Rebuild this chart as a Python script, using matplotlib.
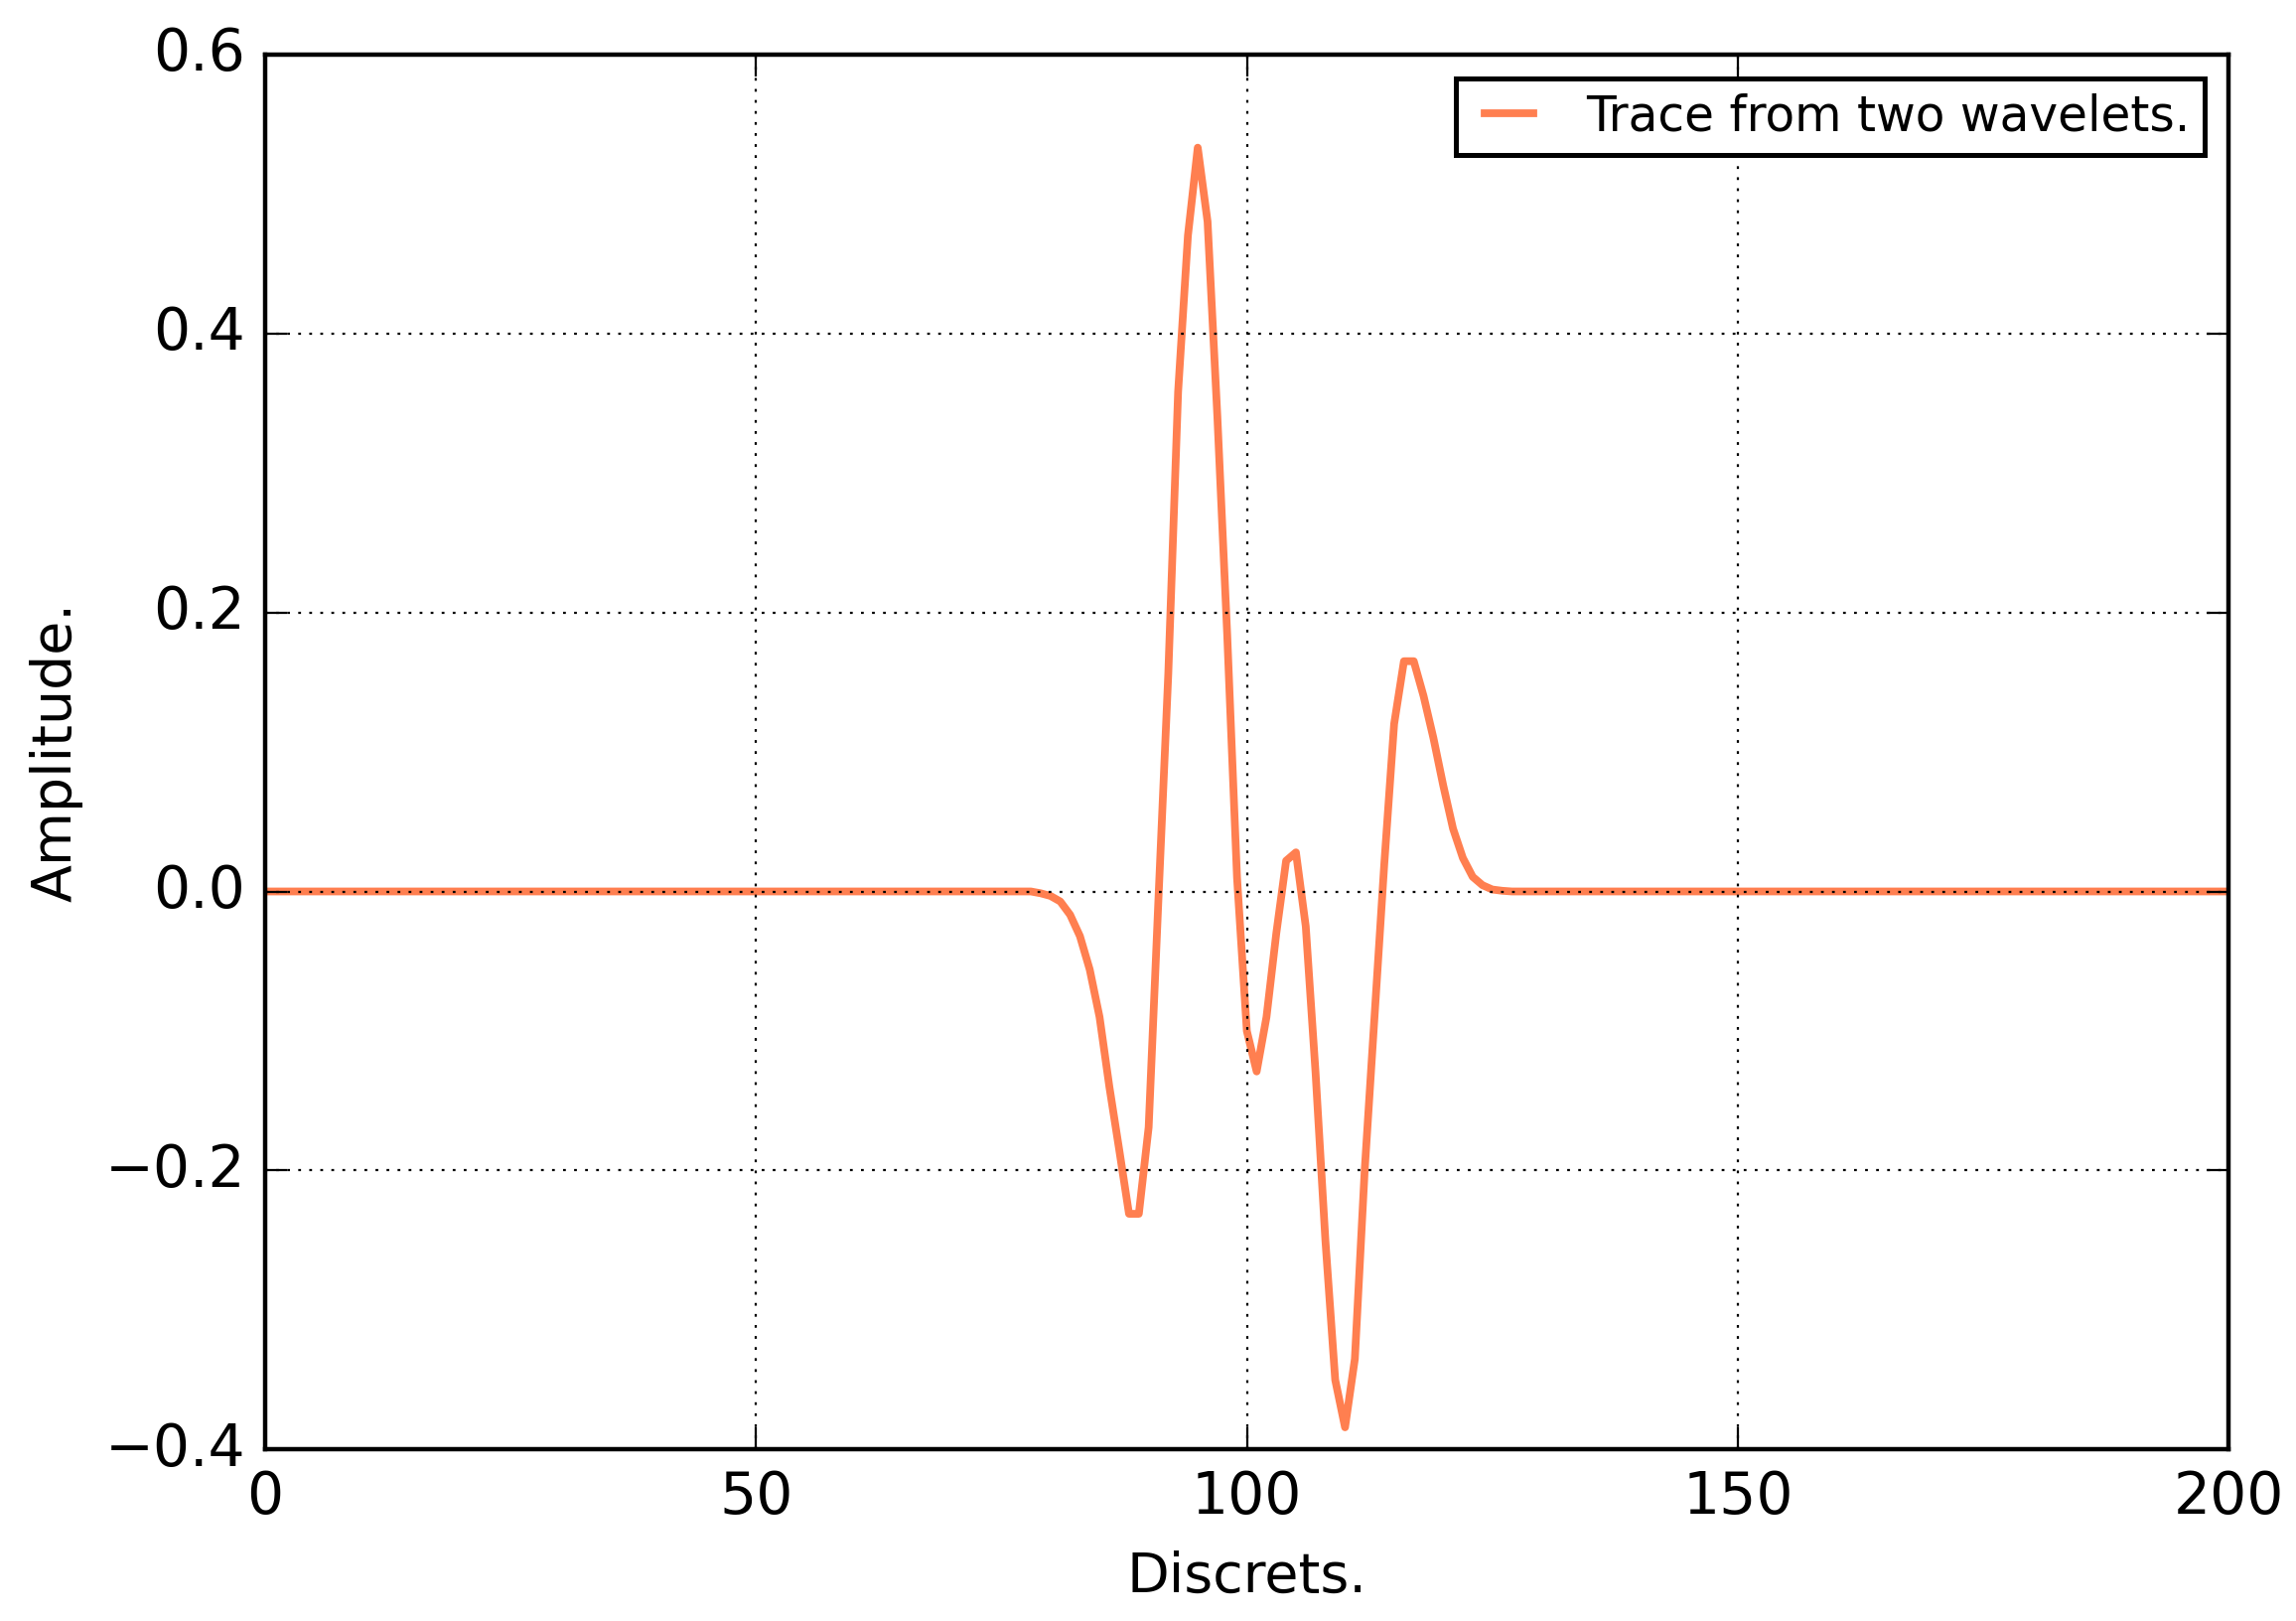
import numpy as np
import matplotlib
matplotlib.use("Agg")
import matplotlib.pyplot as plt

# samples (trace is flat zero outside 78..127)
x_start = 78
trace_part = [0.0, -0.0013, -0.0032, -0.0072, -0.0167, -0.032, -0.056, -0.090,
              -0.140, -0.185, -0.231, -0.231, -0.169, -0.005, 0.156, 0.358,
              0.470, 0.533, 0.480, 0.340, 0.184, 0.010, -0.100, -0.129,
              -0.090, -0.030, 0.022, 0.028, -0.025, -0.130, -0.250, -0.350,
              -0.384, -0.335, -0.200, -0.090, 0.020, 0.120, 0.165, 0.165,
              0.140, 0.110, 0.076, 0.045, 0.024, 0.0105, 0.0045, 0.0014,
              0.0005, 0.0]
n_samples = 201

trace = np.zeros(n_samples)
trace[x_start:x_start + len(trace_part)] = trace_part
discrets = np.arange(n_samples)

plt.style.use('classic')
fig = plt.figure(figsize=(11.56, 8.16), dpi=200, facecolor='white')
ax = fig.add_axes([0.1154, 0.1057, 0.9707 - 0.1154, 0.9666 - 0.1057])

ax.plot(discrets, trace, color='#FF7F50', lw=2.8, label='Trace from two wavelets.')
ax.set_xlim(0, 200)
ax.set_ylim(-0.4, 0.6)
ax.set_xticks([0, 50, 100, 150, 200])
ax.set_yticks([-0.4, -0.2, 0.0, 0.2, 0.4, 0.6])
ax.tick_params(labelsize=21, length=8, width=0.8, pad=7)
ax.grid(True, linestyle=':', color='k', linewidth=0.8)
ax.set_xlabel('Discrets.', fontsize=20, labelpad=9)
ax.set_ylabel('Amplitude.', fontsize=20, labelpad=8)
for s in ax.spines.values():
    s.set_linewidth(1.6)
leg = ax.legend(loc='upper right', fontsize=17.5, handlelength=1.6,
                borderaxespad=0.5, borderpad=0.3)
leg.get_frame().set_linewidth(1.8)

fig.savefig('out.png', dpi=200, facecolor='white')
